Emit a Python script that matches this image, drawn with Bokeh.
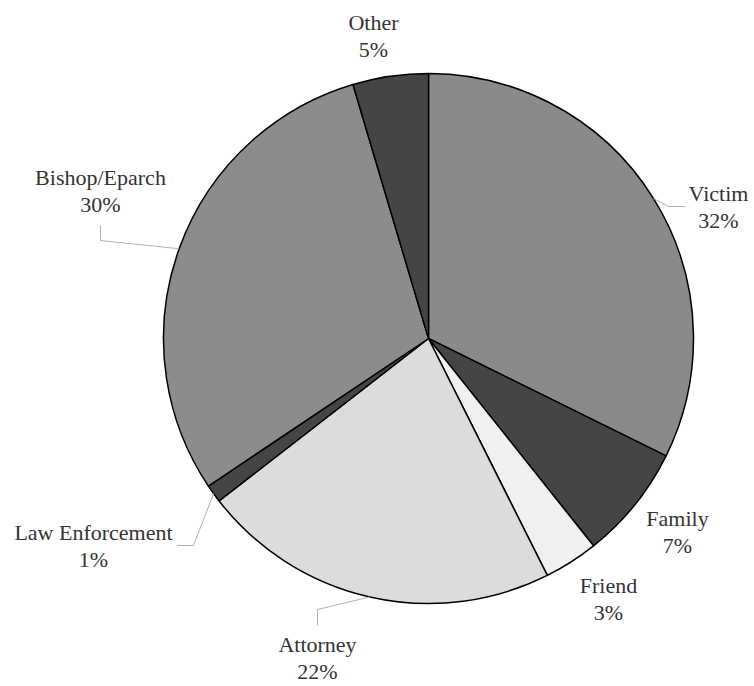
import math
from bokeh.plotting import figure
from bokeh.models import Range1d, ColumnDataSource
from bokeh.core.properties import value
from bokeh.embed import file_html
from bokeh.resources import INLINE

# ---- data ----
categories = ["Victim", "Family", "Friend", "Attorney", "Law Enforcement", "Bishop/Eparch", "Other"]
shares = [32.3, 7.0, 3.3, 21.9, 1.1, 29.8, 4.6]
pct_labels = ["32%", "7%", "3%", "22%", "1%", "30%", "5%"]

# ---- styles / layout ----
fills = ["#8a8a8a", "#454545", "#f0f0f0", "#dcdcdc", "#454545", "#8c8c8c", "#454545"]
PX = 265.0  # pixels per data unit (pie radius)
# label centre (pixel offsets from pie centre, y down) for the name line
label_pos = {
    "Victim": (290, -145),
    "Family": (249, 180),
    "Friend": (180, 247),
    "Attorney": (-111, 306),
    "Law Enforcement": (-335, 194),
    "Bishop/Eparch": (-328, -161),
    "Other": (-55, -316),
}
# leader lines: elbow and end points (pixel offsets from centre), start at slice mid-angle on rim
leaders = {
    "Victim": [(240, -132), (257, -132)],
    "Bishop/Eparch": [(-328, -98), (-328, -113)],
    "Law Enforcement": [(-235, 207), (-251, 207)],
    "Attorney": [(-111, 271), (-111, 287)],
}
LINE_GAP = 27

W, H = 754, 686
CX, CY = 428, 338  # centre in plot pixels

p = figure(width=W, height=H, output_backend="svg", toolbar_location=None,
           x_range=Range1d(-CX / PX, (W - CX) / PX),
           y_range=Range1d(-(H - CY) / PX, CY / PX),
           min_border=0)
p.axis.visible = False
p.grid.visible = False
p.outline_line_color = None
p.background_fill_color = "white"

total = sum(shares)
starts, ends, mids = [], [], []
cum = 0.0
for s in shares:
    a0 = math.pi / 2 - 2 * math.pi * (cum + s) / total
    a1 = math.pi / 2 - 2 * math.pi * cum / total
    starts.append(a0)
    ends.append(a1)
    mids.append((a0 + a1) / 2)
    cum += s

src = ColumnDataSource(dict(x=[0] * len(shares), y=[0] * len(shares),
                            start=starts, end=ends, fill=fills, cat=categories))
p.wedge(x="x", y="y", radius=1.0, start_angle="start", end_angle="end",
        fill_color="fill", line_color="black", line_width=1.5, source=src)

for cat, mid in zip(categories, mids):
    if cat in leaders:
        xs = [math.cos(mid)] + [dx / PX for dx, dy in leaders[cat]]
        ys = [math.sin(mid)] + [-dy / PX for dx, dy in leaders[cat]]
        p.line(xs, ys, line_color="#b0b0b0", line_width=1)

tx, ty, tt = [], [], []
for cat, pct in zip(categories, pct_labels):
    dx, dy = label_pos[cat]
    tx += [dx / PX, dx / PX]
    ty += [-dy / PX, -(dy + LINE_GAP) / PX]
    tt += [cat, pct]
p.text(x=tx, y=ty, text=tt, text_font=value("Liberation Serif"), text_font_size="22px",
       text_color="#333333", text_align="center", text_baseline="middle")

open("out.html", "w").write(file_html(p, INLINE))
